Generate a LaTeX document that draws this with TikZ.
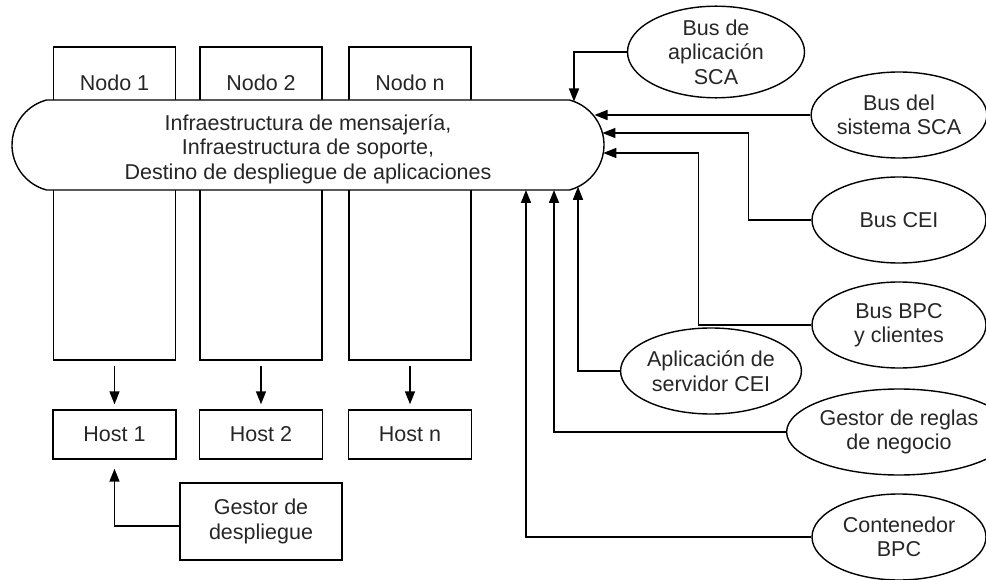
\documentclass[tikz,border=0pt]{standalone}
\usepackage{fontspec}
\setmainfont{Liberation Sans}
\usetikzlibrary{shapes.misc,shapes.geometric,arrows.meta,calc}
\begin{document}
\begin{tikzpicture}[x=1pt,y=-1pt,
  every node/.style={font=\fontsize{21.5}{24.5}\selectfont, align=center, inner sep=0pt, text=black!85},
  box/.style={draw, rectangle, line width=1.4pt},
  nodebox/.style={box, minimum width=122pt, minimum height=313pt},
  hostbox/.style={box, minimum width=123pt, minimum height=49pt},
  oval/.style={draw, ellipse, minimum width=174pt, minimum height=86pt, line width=1.4pt},
  arr/.style={-{Triangle[length=13pt,width=10pt]}, line width=1.5pt},
  toplabel/.style={label={[anchor=center, yshift=-37pt]north:#1}}]
\useasboundingbox (0,0) rectangle (986,580);

% node columns
\node[nodebox, toplabel={Nodo 1}] (n1) at (114.5,203.5) {};
\node[nodebox, toplabel={Nodo 2}] (n2) at (261,203.5) {};
\node[nodebox, toplabel={Nodo n}] (nn) at (410,203.5) {};

% bus
\node[draw, rounded rectangle, rounded rectangle arc length=150, line width=1.4pt,
      minimum width=592pt, minimum height=90pt, fill=white,
      label={[yshift=-4pt]center:{Infraestructura de mensajería,\\Infraestructura de soporte,\\Destino de despliegue de aplicaciones}}]
  (bus) at (308,145) {};

% hosts
\node[hostbox] (h1) at (114.5,434.5) {Host 1};
\node[hostbox] (h2) at (261,434.5) {Host 2};
\node[hostbox] (hn) at (410,434.5) {Host n};
\node[box, minimum width=162pt, minimum height=77pt] (gd) at (261,521.5) {Gestor de\\despliegue};

% ellipses
\node[oval, minimum width=177pt, minimum height=85pt] (bas) at (716,52) {Bus de\\aplicación\\SCA};
\node[oval] (bss) at (899,115) {Bus del\\sistema SCA};
\node[oval] (bcei) at (899,220) {Bus CEI};
\node[oval] (bpc) at (899,325) {Bus BPC\\y clientes};
\node[oval, minimum width=176pt] (asc) at (711,371) {Aplicación de\\servidor CEI};
\node[oval] (gr) at (899,432) {Gestor de reglas\\de negocio};
\node[oval] (cb) at (899,537) {Contenedor\\BPC};

% contact points on the bus
\coordinate (tA) at ($(bus.center)+(266,-43.5)$);
\coordinate (tB) at ($(bus.center)+(286.5,-30)$);
\coordinate (tC) at ($(bus.center)+(294.4,-12)$);
\coordinate (tD) at ($(bus.center)+(295.3,8)$);
\coordinate (tE) at ($(bus.center)+(270,41.8)$);
\coordinate (tF) at ($(bus.center)+(246,45)$);
\coordinate (tG) at ($(bus.center)+(218,45)$);

% connectors
\draw[arr] (bas.west) -| (tA);
\draw[arr] (bss.west) -- (tB);
\draw[arr] (bcei.west) -- ++(-63,0) |- (tC);
\draw[arr] (bpc.west) -- ++(-113,0) |- (tD);
\draw[arr] (asc.west) -| (tE);
\draw[arr] (gr.west) -| (tF);
\draw[arr] (cb.west) -| (tG);

\draw[arr, shorten <=5pt, shorten >=5pt] (n1.south) -- (h1.north);
\draw[arr, shorten <=5pt, shorten >=5pt] (n2.south) -- (h2.north);
\draw[arr, shorten <=5pt, shorten >=5pt] (nn.south) -- (hn.north);
\draw[arr, shorten >=9pt] ([yshift=-4.5pt]gd.west) -| (h1.south);
\end{tikzpicture}
\end{document}
